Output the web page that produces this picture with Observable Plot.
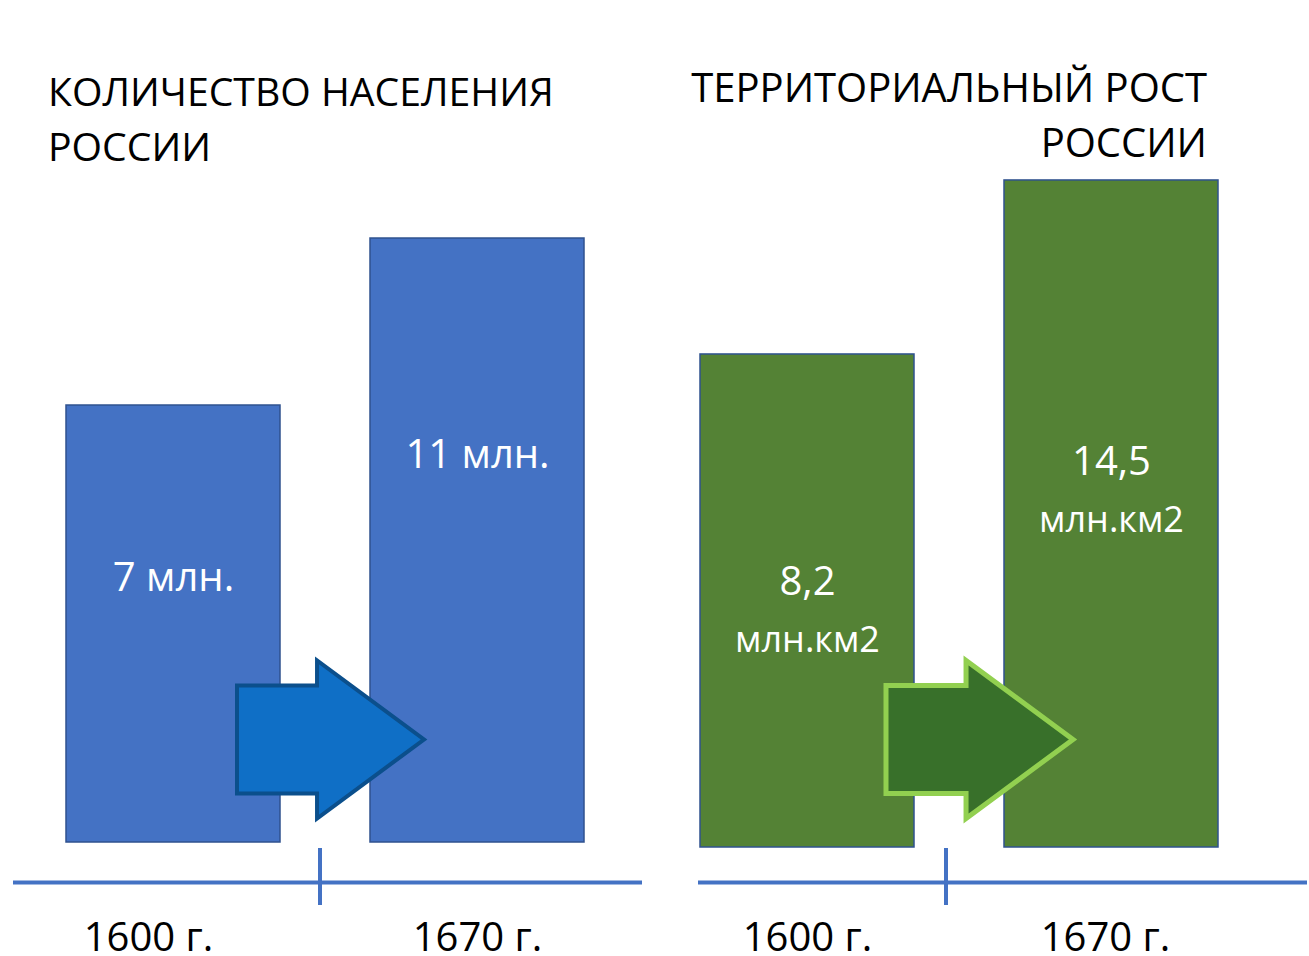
<!DOCTYPE html>
<html><head><meta charset="utf-8">
<script src="https://cdn.jsdelivr.net/npm/d3@7"></script>
<script src="https://cdn.jsdelivr.net/npm/@observablehq/plot@0.6"></script>
<style>
html,body{margin:0;padding:0;background:#fff;}
#wrap{position:relative;width:1309px;height:956px;overflow:hidden;font-family:"Open Sans",sans-serif;}
.title{position:absolute;font-size:40px;line-height:55px;color:#000;white-space:nowrap;}
#t1{left:48px;top:63px;font-size:39.2px;}
#t2{right:102px;top:59px;text-align:right;}
.panel{position:absolute;top:0;}
#p1{left:0;}
#p2{left:660px;}
.panel svg{overflow:visible;}
</style>
</head><body>
<div id="wrap">
  <div class="title" id="t1">КОЛИЧЕСТВО НАСЕЛЕНИЯ<br>РОССИИ</div>
  <div class="title" id="t2">ТЕРРИТОРИАЛЬНЫЙ РОСТ<br>РОССИИ</div>
  <div class="panel" id="p1"></div>
  <div class="panel" id="p2"></div>
</div>
<script>
// ---- data ----
const years = ["1600 г.", "1670 г."];
const population = [7, 11];
const populationLabels = ["7 млн.", "11 млн."];
const territory = [8.2, 14.5];
const territoryLabels = ["8,2", "14,5"];
const territoryUnit = "млн.км2";

// ---- arrow glyph (unit shape, scaled by r) ----
const arrowSymbol = {
  draw(ctx, size) {
    const r = Math.sqrt(size / Math.PI);
    const pts = [[-1, -0.578], [-0.144, -0.578], [-0.144, -0.845], [1, 0], [-0.144, 0.845], [-0.144, 0.578], [-1, 0.578]];
    pts.forEach(([x, y], i) => i ? ctx.lineTo(x * r, y * r) : ctx.moveTo(x * r, y * r));
    ctx.closePath();
  }
};

const axisColor = "#4472C4";
const font = "Open Sans, sans-serif";

function panel(o) {
  const data = years.map((year, i) => ({year, value: o.values[i], label: o.labels[i]}));
  const labelY = d => o.labelA + o.labelB * d.value;
  const marks = [
    Plot.barY(data, {x: "year", y1: o.lo, y2: "value", fill: o.fill, stroke: "#2F528F", strokeWidth: 1.5}),
    Plot.dot([years[1]], {x: d => d, frameAnchor: "bottom", dy: o.arrowDy, dx: o.arrowDx, r: 93.5,
      symbol: arrowSymbol, fill: o.arrowFill, stroke: o.arrowStroke, strokeWidth: o.arrowStrokeWidth, strokeLinejoin: "miter"}),
    Plot.ruleY([o.lo], {dy: o.axisDy, stroke: axisColor, strokeWidth: 4}),
    Plot.ruleX([years[1]], {dx: o.tickDx, insetTop: o.tickInsetTop, insetBottom: o.tickInsetBottom, stroke: axisColor, strokeWidth: 4}),
    ...years.map((yr, i) => Plot.axisX([yr], {tickSize: 0, tickPadding: o.tickPadding, dx: o.yearDx[i], fontSize: 40, fill: "#000", fontFamily: font, label: null}))
  ];
  if (o.unit) {
    marks.push(Plot.text(data, {x: "year", y: labelY, text: "label", dy: -29, fill: "white", fontSize: 40, fontFamily: font}));
    marks.push(Plot.text(data, {x: "year", y: labelY, text: () => o.unit, dy: 29, fill: "white", fontSize: 36, letterSpacing: 1.5, fontFamily: font}));
  } else {
    marks.push(Plot.text(data, {x: "year", y: labelY, text: "label", fill: "white", fontSize: 40, fontFamily: font}));
  }
  return Plot.plot({
    width: o.width, height: 956,
    marginLeft: o.marginLeft, marginRight: o.marginRight, marginTop: 150, marginBottom: o.marginBottom,
    style: {background: "transparent", fontFamily: font, overflow: "visible"},
    x: {type: "band", domain: years, paddingInner: 0.295, paddingOuter: o.paddingOuter, align: o.align, label: null},
    y: {domain: [o.lo, o.hi], axis: null},
    marks
  });
}

document.getElementById("p1").append(panel({
  values: population, labels: populationLabels,
  width: 660, marginLeft: 13, marginRight: 18, marginBottom: 114,
  paddingOuter: 0.1787, align: 0.477,
  lo: -3.467, hi: 13.108, labelA: -2.30, labelB: 0.7365,
  fill: "#4472C4", arrowFill: "#0F6FC6", arrowStroke: "#0B4F8C", arrowStrokeWidth: 4,
  arrowDx: -147, arrowDy: -103,
  axisDy: 40, tickDx: -157.5, tickInsetTop: 698, tickInsetBottom: -63, tickPadding: 80, yearDx: [-25, 0]
}));

document.getElementById("p2").append(panel({
  values: territory, labels: territoryLabels, unit: territoryUnit,
  width: 649, marginLeft: 38, marginRight: 2, marginBottom: 109,
  paddingOuter: 0.146, align: 0.0225,
  lo: -9.65, hi: 15.585, labelA: -6.759, labelB: 0.6895,
  fill: "#548235", arrowFill: "#38702A", arrowStroke: "#92D050", arrowStrokeWidth: 5,
  arrowDx: -132, arrowDy: -108,
  axisDy: 35, tickDx: -165.5, tickInsetTop: 698, tickInsetBottom: -58, tickPadding: 75, yearDx: [0, -6]
}));
</script>
</body></html>
